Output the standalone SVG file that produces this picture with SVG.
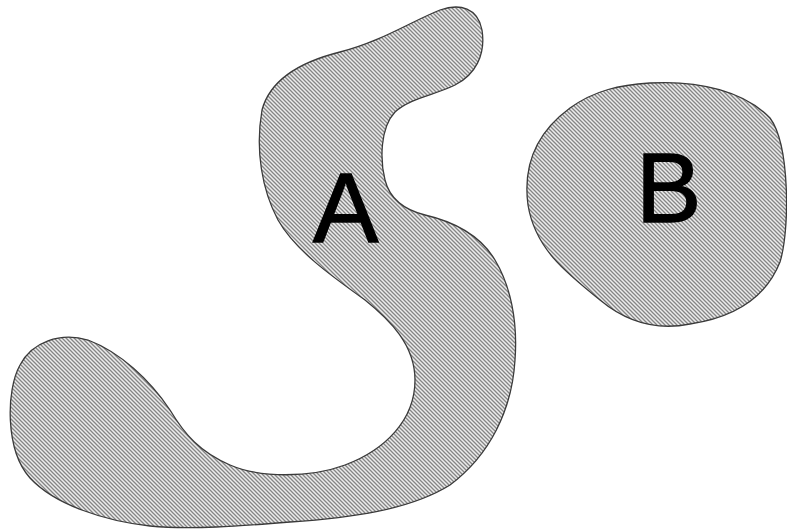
<svg xmlns="http://www.w3.org/2000/svg" width="787" height="531" viewBox="0 0 787 531">
<style>
.region{fill:url(#hatch);stroke:#3a3a3a;stroke-width:1.3}
.lbl{font-family:"Liberation Sans",Arial,sans-serif;font-size:98px;fill:#000;stroke:#000;stroke-width:1.5}
</style>
<defs>
<pattern id="hatch" width="4" height="4" patternUnits="userSpaceOnUse">
<rect width="4" height="4" fill="#ececec"/>
<path d="M-1,-1 L5,5 M-1,3 L1,5 M3,-1 L5,1" stroke="#858585" stroke-width="1.3"/>
</pattern>
</defs>
<rect width="787" height="531" fill="#fff"/>
<g id="A">
<path class="region" d="M440,10 C460,3 478,8 482,30 C486,55 475,75 455,85 C435,95 410,98 395,112 C380,128 380,160 385,180 C390,200 405,210 425,215 C455,222 480,235 495,260 C510,285 518,320 515,360 C512,410 490,455 450,485 C410,510 350,518 290,522 C240,526 190,530 150,526 C105,521 55,505 30,478 C5,450 6,390 20,365 C32,342 60,332 88,340 C120,352 150,380 170,410 C185,435 200,452 230,465 C260,478 310,478 345,465 C385,450 415,420 415,380 C415,345 390,320 365,300 C330,275 295,250 278,220 C262,190 255,150 262,110 C270,80 300,62 340,52 C380,42 410,22 440,10 Z"/>
<text class="lbl" x="313" y="242">A</text>
</g>
<g id="B">
<path class="region" d="M650,83 C700,80 745,92 770,118 C790,145 790,230 780,262 C765,300 730,318 690,324 C660,330 630,325 600,300 C565,272 535,248 528,205 C522,160 540,130 570,108 C595,90 620,85 650,83 Z"/>
<text class="lbl" x="636" y="222">B</text>
</g>
<g id="connectors"/>
</svg>
